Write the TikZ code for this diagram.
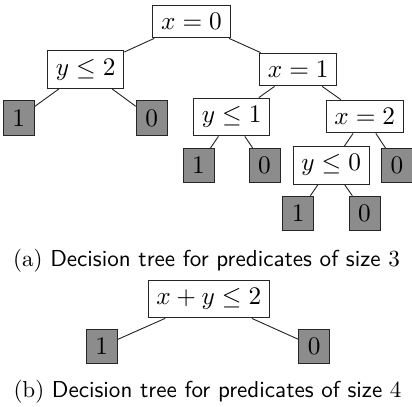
\documentclass[tikz,border=0pt]{standalone}
\usepackage{tikz}
\usepackage{xcolor}
\usepackage{mathtools}

\tikzset{
  test/.style={draw=black!85, fill=white, inner sep=3.6pt, font=\fontsize{11.4}{13}\selectfont},
  leaf/.style={draw=black!85, fill=black!45, inner sep=0pt, minimum width=13.4pt, minimum height=14.8pt, font=\fontsize{11.4}{13}\selectfont},
  caption/.style={anchor=base, inner sep=0pt}
}

\begin{document}
\begin{tikzpicture}[x=0.4334pt, y=-0.4334pt]
    \useasboundingbox (0,0) rectangle (412,406);
    % tree (a)
    \node[test] (xzero)  at (191.5,21.5) {$x = 0$};
    \node[test] (ytwo)   at (85.7,69.5)  {$y \leq 2$};
    \node[test] (xone)   at (298.2,69.5) {$x = 1$};
    \node[leaf] (la)     at (18.8,118)   {$1$};
    \node[leaf] (lb)     at (151.7,118)  {$0$};
    \node[test] (yone)   at (231.7,117)  {$y \leq 1$};
    \node[test] (xtwo)   at (364.7,116.5){$x = 2$};
    \node[leaf] (lc)     at (198.5,165.5){$1$};
    \node[leaf] (ld)     at (264.5,165.5){$0$};
    \node[test] (yzero)  at (331.2,165.3){$y \leq 0$};
    \node[leaf] (le)     at (397,165.5)  {$0$};
    \node[leaf] (lf)     at (298.3,213.3){$1$};
    \node[leaf] (lg)     at (364.5,213.3){$0$};
    \foreach \a/\b in {xzero/ytwo, xzero/xone, ytwo/la, ytwo/lb, xone/yone, xone/xtwo,
                       yone/lc, yone/ld, xtwo/yzero, xtwo/le, yzero/lf, yzero/lg}
      { \draw[black!85] (\a) -- (\b); }
    \node[caption] (capa) at (206.5,266) {(a) \textsf{Decision tree for predicates of size} $3$};
    % tree (b)
    \node[test] (xysum)  at (208.8,299)  {$x + y \leq 2$};
    \node[leaf] (lh)     at (101.7,346.5){$1$};
    \node[leaf] (li)     at (314.3,346.5){$0$};
    \foreach \b in {lh, li} { \draw[black!85] (xysum) -- (\b); }
    \node[caption] (capb) at (207.5,397) {(b) \textsf{Decision tree for predicates of size} $4$};
\end{tikzpicture}
\end{document}
